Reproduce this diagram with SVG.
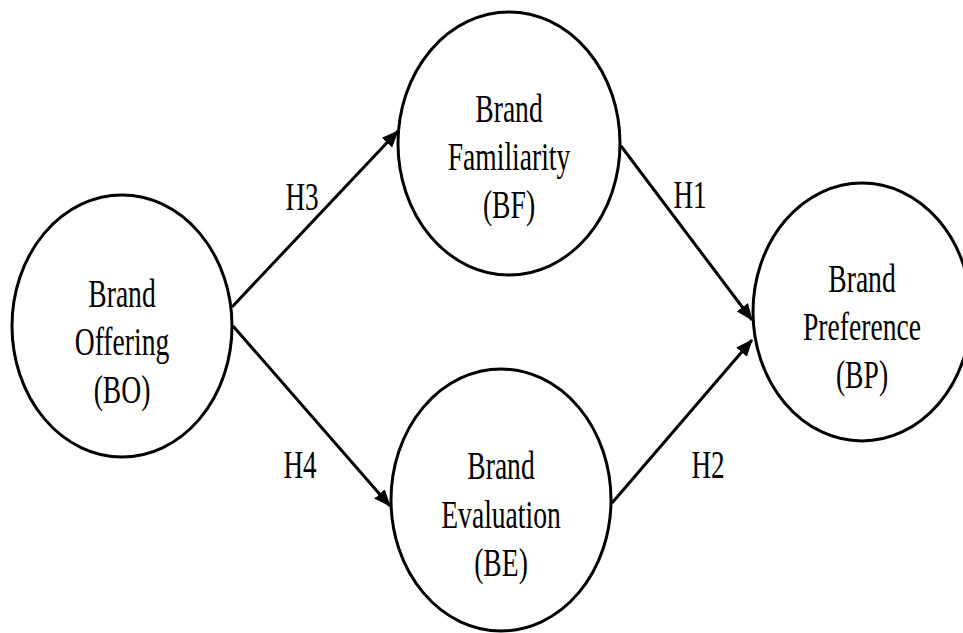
<svg xmlns="http://www.w3.org/2000/svg" width="963" height="633" viewBox="0 0 963 633">
<style>
.node{fill:#fff;stroke:#000;stroke-width:3}
.t{font-family:"Liberation Serif","Times New Roman",serif;font-size:40px;fill:#000;text-anchor:middle}
.edge{stroke:#000;stroke-width:3;fill:none;marker-end:url(#ah)}
</style>
<defs>
<marker id="ah" markerUnits="userSpaceOnUse" markerWidth="18" markerHeight="14" refX="16" refY="7" orient="auto">
<path d="M0,0 L17,7 L0,14 z" fill="#000"/>
</marker>
</defs>
<rect width="963" height="633" fill="#fff"/>
<g id="connectors">
<line class="edge" x1="232" y1="307" x2="398" y2="131"/>
<line class="edge" x1="233" y1="326" x2="390" y2="506"/>
<line class="edge" x1="621" y1="146" x2="752" y2="320"/>
<line class="edge" x1="612" y1="503" x2="752" y2="340"/>
<text class="t" transform="translate(302,210) scale(0.68,1)">H3</text>
<text class="t" transform="translate(300,478) scale(0.68,1)">H4</text>
<text class="t" transform="translate(690,208) scale(0.68,1)">H1</text>
<text class="t" transform="translate(708,478) scale(0.68,1)">H2</text>
</g>
<g id="BO">
<ellipse class="node" cx="122" cy="326" rx="110" ry="131"/>
<text class="t" transform="translate(122,307) scale(0.69,1)">Brand</text>
<text class="t" transform="translate(122,355) scale(0.69,1)">Offering</text>
<text class="t" transform="translate(122,403) scale(0.69,1)">(BO)</text>
</g>
<g id="BF">
<ellipse class="node" cx="509" cy="143.5" rx="111" ry="131.5"/>
<text class="t" transform="translate(509,122) scale(0.69,1)">Brand</text>
<text class="t" transform="translate(509,170) scale(0.69,1)">Familiarity</text>
<text class="t" transform="translate(509,218) scale(0.69,1)">(BF)</text>
</g>
<g id="BE">
<ellipse class="node" cx="501" cy="500" rx="110" ry="131"/>
<text class="t" transform="translate(501,479) scale(0.69,1)">Brand</text>
<text class="t" transform="translate(501,528) scale(0.69,1)">Evaluation</text>
<text class="t" transform="translate(501,576) scale(0.69,1)">(BE)</text>
</g>
<g id="BP">
<ellipse class="node" cx="862" cy="312" rx="109" ry="129"/>
<text class="t" transform="translate(862,292) scale(0.69,1)">Brand</text>
<text class="t" transform="translate(862,340) scale(0.69,1)">Preference</text>
<text class="t" transform="translate(862,388) scale(0.69,1)">(BP)</text>
</g>
</svg>
